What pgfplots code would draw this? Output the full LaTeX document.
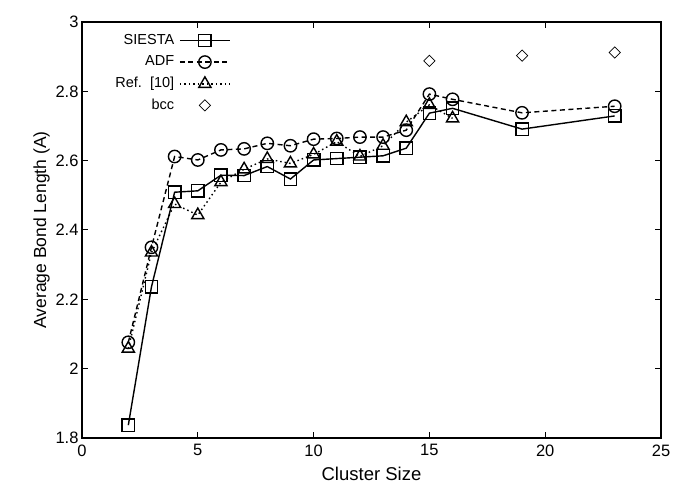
\documentclass[border=0pt]{standalone}
\usepackage{fontspec}
\setmainfont{Liberation Sans}
\usepackage{pgfplots}
\pgfplotsset{compat=1.18}
\begin{document}
\begin{tikzpicture}
\begin{axis}[
  scale only axis,
  width=579pt, height=416pt,
  xmin=0, xmax=25, ymin=1.8, ymax=3,
  xtick={0,5,...,25},
  ytick={1.8,2,...,3.01},
  yticklabels={1.8,2,2.2,2.4,2.6,2.8,3},
  /pgf/number format/assume math mode=true,
  tick style={black, line width=1pt},
  major tick length=6pt,
  tick align=inside,
  axis line style={line width=1.4pt},
  ticklabel style={font=\fontsize{16.5}{19}\selectfont},
  xticklabel style={yshift=-3pt},
  xlabel={\fontsize{18.5}{21}\selectfont Cluster Size},
  ylabel={\fontsize{17.5}{20}\selectfont Average Bond Length (A)},
  xlabel style={yshift=-4pt},
  ylabel style={yshift=-1pt},
  legend style={draw=none, fill=none, font=\fontsize{14.5}{17}\selectfont,
    at={(0.257,0.972)}, anchor=north east, inner sep=0pt,
    nodes={inner ysep=0pt, inner xsep=2pt, text height=10.5pt, text depth=3pt},
    row sep=8pt, column sep=3pt},
  legend cell align=right,
  legend plot pos=right,
  legend image code/.code={\draw[mark repeat=2,mark phase=2,#1] plot coordinates {(0pt,0pt) (25pt,0pt) (50pt,0pt)};},
]
\addplot[black, line width=1.4pt, mark=square, mark size=6.2pt, mark options={solid, line width=1.4pt}] coordinates {
(2,1.837) (3,2.236) (4,2.509) (5,2.513) (6,2.558) (7,2.557) (8,2.583) (9,2.547)
(10,2.602) (11,2.606) (12,2.610) (13,2.614) (14,2.636) (15,2.737) (16,2.751) (19,2.691) (23,2.729)};
\addlegendentry{SIESTA}
\addplot[black, line width=1.4pt, dash pattern=on 5pt off 3.5pt, mark=o, mark size=6.2pt, mark options={solid, line width=1.4pt}] coordinates {
(2,2.076) (3,2.350) (4,2.612) (5,2.602) (6,2.631) (7,2.634) (8,2.650) (9,2.643)
(10,2.662) (11,2.664) (12,2.668) (13,2.668) (14,2.688) (15,2.792) (16,2.777) (19,2.738) (23,2.757)};
\addlegendentry{ADF}
\addplot[black, line width=1.4pt, dash pattern=on 1.5pt off 3pt, mark=triangle, mark size=7pt, mark options={solid, line width=1.4pt}] coordinates {
(2,2.058) (3,2.335) (4,2.475) (5,2.443) (6,2.538) (7,2.575) (8,2.605) (9,2.592)
(10,2.618) (11,2.655) (12,2.612) (13,2.643) (14,2.711) (15,2.761) (16,2.722)};
\addlegendentry{Ref.\ \ [10]}
\addplot[black, only marks, mark=square, mark size=4pt, mark options={rotate=45, line width=0.7pt}] coordinates {
(15,2.888) (19,2.903) (23,2.912)};
\addlegendentry{bcc}
\end{axis}
\path ([xshift=-82pt,yshift=-46pt]current axis.south west) rectangle ([xshift=13pt,yshift=22pt]current axis.north east);
\end{tikzpicture}
\end{document}
